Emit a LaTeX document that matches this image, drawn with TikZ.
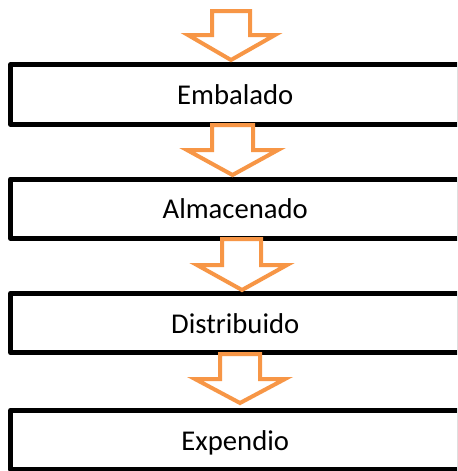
\documentclass[tikz,border=0pt]{standalone}
\usepackage{fontspec}
\setmainfont{Carlito}
\definecolor{arrorange}{HTML}{F79646}
\begin{document}
\begin{tikzpicture}[x=0.75pt,y=-0.75pt,
  stagebox/.style={draw=black,line width=3.75pt,line join=round,fill=white,
    rectangle,inner sep=0pt,minimum width=337pt,minimum height=44.6pt,
    text height=15pt,text depth=0pt,font=\fontsize{21.5}{26}\selectfont},
  blockarrow/.style={draw=arrorange,line width=3pt,fill=white,line join=miter}]
\useasboundingbox (0,0) rectangle (457,471);
\clip (0,0) rectangle (457,471);
\node[stagebox] (b1) at (235.25,94.5) {Embalado};
\node[stagebox] (b2) at (235.25,208.75) {Almacenado};
\node[stagebox] (b3) at (235.25,323) {Distribuido};
\node[stagebox] (b4) at (235.25,440) {Expendio};
% block arrows
\draw[blockarrow] (212,11) -- (250,11) -- (250,35) -- (275,35) -- (231,60) -- (188,35) -- (212,35) -- cycle;
\draw[blockarrow] (212,125) -- (253,125) -- (253,150) -- (278,150) -- (232.5,175) -- (187,150) -- (212,150) -- cycle;
\draw[blockarrow] (222,239) -- (261,239) -- (261,265) -- (287,265) -- (242,290) -- (197,265) -- (222,265) -- cycle;
\draw[blockarrow] (220,354) -- (260,354) -- (260,379) -- (285,379) -- (240,403) -- (195,379) -- (220,379) -- cycle;
\end{tikzpicture}
\end{document}
